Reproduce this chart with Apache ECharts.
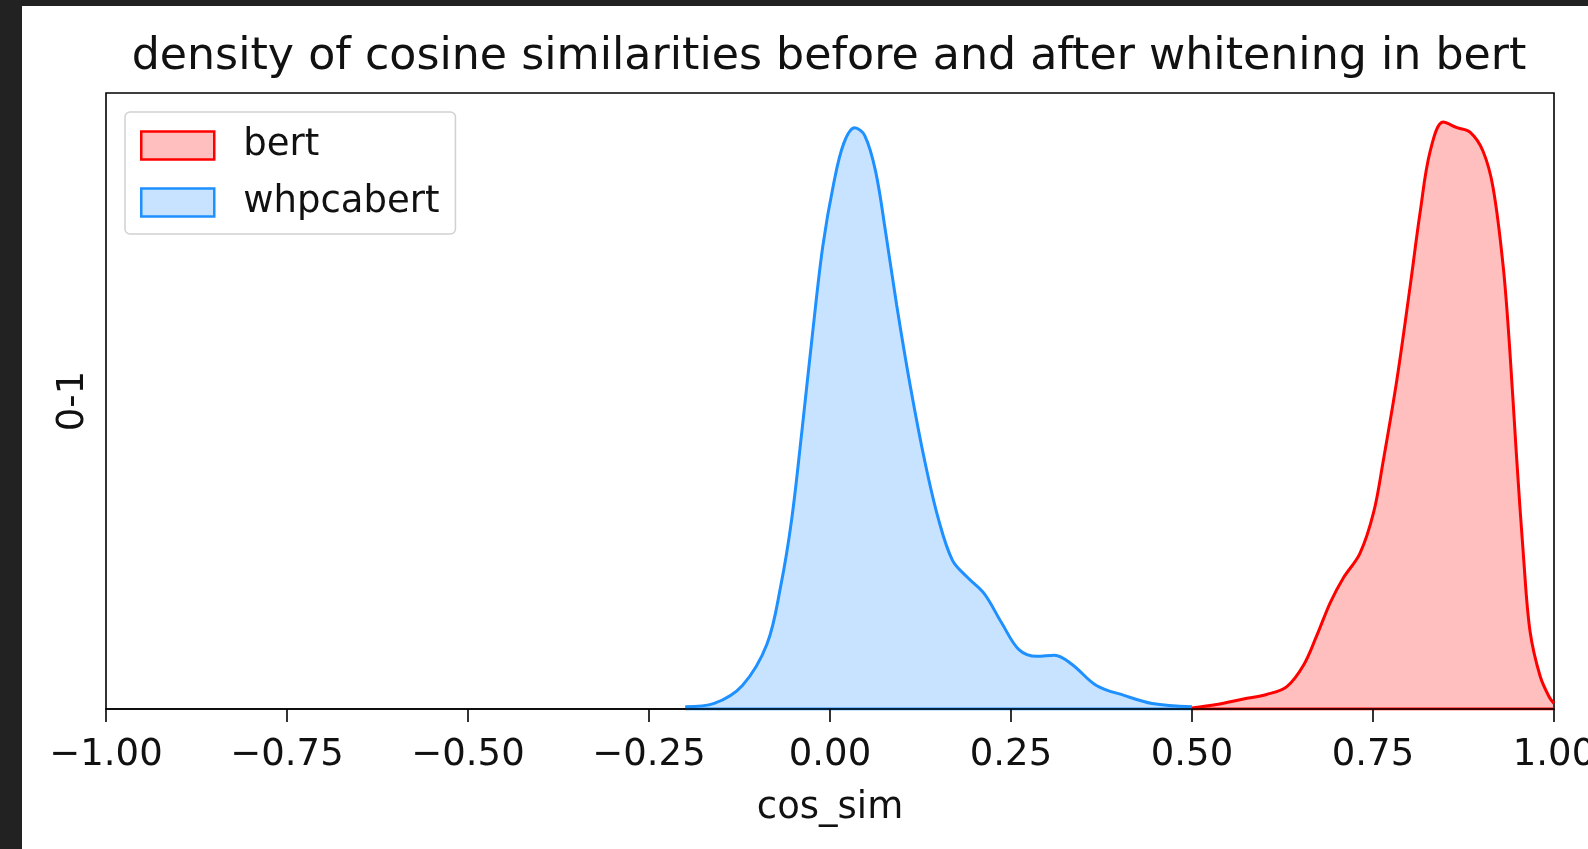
<!DOCTYPE html>
<html>
<head>
<meta charset="utf-8">
<script src="https://cdn.jsdelivr.net/npm/echarts@6/dist/echarts.min.js"></script>
<style>
  html, body { margin: 0; padding: 0; background: #fff; }
  #chart { position: absolute; left: 0; top: 0; width: 1588px; height: 849px; background: #fff; }
  .dark { position: absolute; background: #222222; z-index: 10; }
</style>
</head>
<body>
<div id="chart"></div>
<div class="dark" style="left:0;top:0;width:22px;height:849px;"></div>
<div class="dark" style="left:0;top:0;width:1588px;height:6px;"></div>
<script>
// ---- data (density estimates) ----
const titleText = 'density of cosine similarities before and after whitening in bert';
const xTicks = [-1.0, -0.75, -0.5, -0.25, 0.0, 0.25, 0.5, 0.75, 1.0];

const bertX = [0.500, 0.534, 0.571, 0.603, 0.631, 0.654, 0.672, 0.691, 0.709, 0.732, 0.751, 0.764, 0.783, 0.801, 0.815, 0.829, 0.847, 0.866, 0.884, 0.902, 0.916, 0.930, 0.939, 0.948, 0.958, 0.967, 0.981, 0.994, 1.000];
const bertY = [0.01, 0.04, 0.09, 0.13, 0.20, 0.39, 0.65, 0.95, 1.17, 1.39, 1.76, 2.21, 2.94, 3.76, 4.43, 4.98, 5.24, 5.19, 5.15, 4.98, 4.65, 3.94, 3.20, 2.28, 1.35, 0.69, 0.29, 0.10, 0.05];

const whX = [-0.200, -0.160, -0.121, -0.087, -0.068, -0.053, -0.039, -0.024, -0.010, 0.005, 0.019, 0.034, 0.048, 0.063, 0.077, 0.092, 0.111, 0.131, 0.150, 0.169, 0.189, 0.213, 0.237, 0.261, 0.286, 0.310, 0.334, 0.368, 0.407, 0.445, 0.500];
const whY = [0.02, 0.05, 0.21, 0.58, 1.10, 1.69, 2.47, 3.36, 4.13, 4.69, 5.05, 5.19, 5.12, 4.80, 4.25, 3.61, 2.88, 2.21, 1.69, 1.33, 1.18, 1.03, 0.77, 0.53, 0.47, 0.48, 0.40, 0.21, 0.12, 0.05, 0.02];

const seriesNames = ['bert', 'whpcabert'];
const yMax = 5.5;

// ---- chart ----
const FONT = 'DejaVu Sans';
const pair = (xs, ys) => xs.map((x, i) => [x, ys[i]]);
const edge = (xs) => [[xs[0], 0], [xs[xs.length - 1], 0]];

const chart = echarts.init(document.getElementById('chart'), null, { renderer: 'canvas' });
chart.setOption({
  animation: false,
  backgroundColor: 'transparent',
  title: {
    text: titleText,
    left: 824, top: 30, textAlign: 'center',
    textStyle: { fontFamily: FONT, fontSize: 44.3, fontWeight: 'normal', color: '#111' }
  },
  legend: {
    left: 125, top: 112, orient: 'vertical',
    icon: 'rect', itemWidth: 73, itemHeight: 28, itemGap: 20,
    padding: [15, 16, 13, 15],
    backgroundColor: '#fff', borderColor: 'rgba(204,204,204,0.9)', borderWidth: 1.5, borderRadius: 5,
    textStyle: { fontFamily: FONT, fontSize: 37, color: '#111', lineHeight: 28, padding: [0, 0, 0, 24] },
    data: [
      { name: seriesNames[0], itemStyle: { color: 'rgba(255,0,0,0.25)', borderColor: '#ff0000', borderWidth: 2.5 } },
      { name: seriesNames[1], itemStyle: { color: 'rgba(30,144,255,0.25)', borderColor: '#1e90ff', borderWidth: 2.5 } }
    ]
  },
  grid: { left: 106, top: 93, right: 34, bottom: 140, outerBoundsMode: 'none', containLabel: false,
          show: true, borderColor: '#000', borderWidth: 1.6, backgroundColor: 'transparent' },
  xAxis: {
    type: 'value', min: xTicks[0], max: xTicks[xTicks.length - 1], interval: 0.25, z: 10,
    name: 'cos_sim', nameLocation: 'middle', nameGap: 81,
    nameTextStyle: { fontFamily: FONT, fontSize: 37, color: '#111' },
    axisLine: { show: true, onZero: false, lineStyle: { color: '#000', width: 1.6 } },
    axisTick: { show: true, length: 13, lineStyle: { color: '#000', width: 1.6 } },
    axisLabel: {
      fontFamily: FONT, fontSize: 37, color: '#111', margin: 28, hideOverlap: false,
      formatter: v => (v < 0 ? '\u2212' : '') + Math.abs(v).toFixed(2)
    },
    splitLine: { show: false }
  },
  yAxis: {
    type: 'value', min: 0, max: yMax,
    name: '0-1', nameLocation: 'middle', nameGap: 14,
    nameTextStyle: { fontFamily: FONT, fontSize: 37, color: '#111' },
    axisLine: { show: false }, axisTick: { show: false }, axisLabel: { show: false }, splitLine: { show: false }
  },
  series: [
    {
      name: seriesNames[0], type: 'line', data: pair(bertX, bertY), smooth: 0.35, showSymbol: false, z: 3,
      lineStyle: { color: '#ff0000', width: 3 }, itemStyle: { color: '#ff0000' },
      areaStyle: { color: 'rgba(255,0,0,0.25)', opacity: 1, origin: 'start' }
    },
    {
      name: seriesNames[1], type: 'line', data: pair(whX, whY), smooth: 0.35, showSymbol: false, z: 4,
      lineStyle: { color: '#1e90ff', width: 3 }, itemStyle: { color: '#1e90ff' },
      areaStyle: { color: 'rgba(30,144,255,0.25)', opacity: 1, origin: 'start' }
    },
    {
      name: 'bert-edge', type: 'line', data: edge(bertX), showSymbol: false, silent: true, z: 3,
      lineStyle: { color: '#ff0000', width: 3 }
    },
    {
      name: 'whpcabert-edge', type: 'line', data: edge(whX), showSymbol: false, silent: true, z: 4,
      lineStyle: { color: '#1e90ff', width: 3 }
    }
  ]
});
</script>
</body>
</html>
